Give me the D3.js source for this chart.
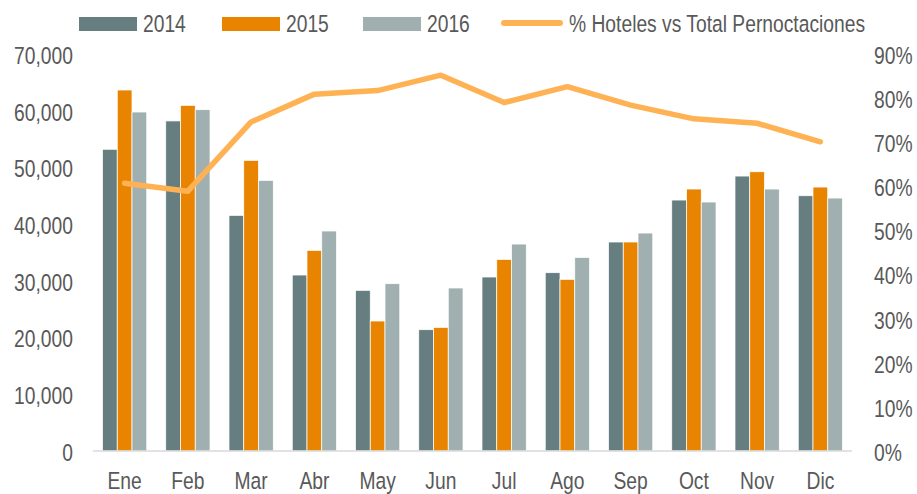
<!DOCTYPE html>
<html lang="es">
<head>
    <meta charset="UTF-8">
    <title>Pernoctaciones</title>
    <style>
        body { margin: 0; background: #fff; }
        svg text {
            font-family: "Liberation Sans", Arial, sans-serif;
            fill: #595959;
        }
    </style>
</head>
<body>
    <svg width="917" height="494"></svg>

    <script src="https://d3js.org/d3.v7.min.js"></script>
    <script>

        // Data
        const months = ['Ene', 'Feb', 'Mar', 'Abr', 'May', 'Jun', 'Jul', 'Ago', 'Sep', 'Oct', 'Nov', 'Dic'];
        const years = ['2014', '2015', '2016'];

        const values2014 = [53200, 58200, 41550, 31030, 28330, 21390, 30680, 31440, 36850, 44250, 48480, 45010];
        const values2015 = [63650, 60950, 51250, 35380, 22920, 21800, 33790, 30270, 36850, 46190, 49240, 46540];
        const values2016 = [59770, 60180, 47720, 38790, 29500, 28740, 36490, 34140, 38430, 43900, 46190, 44600];

        // % Hoteles vs Total Pernoctaciones
        const pctHoteles = [60.7, 58.9, 74.6, 80.9, 81.7, 85.2, 79.0, 82.6, 78.4, 75.3, 74.3, 70.1];

        const leftTicks = [0, 10000, 20000, 30000, 40000, 50000, 60000, 70000];
        const rightTicks = [0, 10, 20, 30, 40, 50, 60, 70, 80, 90];

        const lineLabel = '% Hoteles vs Total Pernoctaciones';
        const colors = { '2014': '#667e80', '2015': '#e88400', '2016': '#a0afaf' };
        const lineColor = '#ffb254';

        const series = [values2014, values2015, values2016];

        // No narrow font installed: squeeze Liberation Sans horizontally instead
        const fontSize = '23.5px';
        const squeeze = 'scale(0.82,1)';

        const svg = d3.select('svg');

        const plot = { left: 93, right: 852, top: 54, bottom: 451 };

        const xScale = d3.scaleBand()
            .domain(months)
            .range([plot.left, plot.right])
            .paddingInner(0.3)
            .paddingOuter(0.15);

        const xInner = d3.scaleBand()
            .domain(years)
            .range([0, xScale.bandwidth()]);

        const yLeft = d3.scaleLinear()
            .domain([0, 70000])
            .range([plot.bottom, plot.top]);

        const yRight = d3.scaleLinear()
            .domain([0, 90])
            .range([plot.bottom, plot.top]);

        // Bars
        const groups = svg.append('g')
            .selectAll('g')
            .data(months)
            .join('g')
            .attr('transform', function (d) {
                return 'translate(' + xScale(d) + ',0)';
            });

        groups.selectAll('rect')
            .data(function (d, i) {
                return years.map(function (y, j) {
                    return { year: y, value: series[j][i] };
                });
            })
            .join('rect')
            .attr('x', function (d) { return xInner(d.year); })
            .attr('y', function (d) { return yLeft(d.value); })
            .attr('width', xInner.bandwidth())
            .attr('height', function (d) { return plot.bottom - yLeft(d.value); })
            .attr('fill', function (d) { return colors[d.year]; })
            .attr('stroke', '#fff')
            .attr('stroke-width', 0.75);

        // Baseline
        svg.append('line')
            .attr('x1', plot.left)
            .attr('x2', plot.right)
            .attr('y1', plot.bottom)
            .attr('y2', plot.bottom)
            .attr('stroke', '#d9d9d9')
            .attr('stroke-width', 1.5);

        // Line series
        const line = d3.line()
            .x(function (d, i) { return xScale(months[i]) + xScale.bandwidth() / 2; })
            .y(function (d) { return yRight(d); });

        svg.append('path')
            .datum(pctHoteles)
            .attr('d', line)
            .attr('fill', 'none')
            .attr('stroke', lineColor)
            .attr('stroke-width', 5.5)
            .attr('stroke-linejoin', 'round')
            .attr('stroke-linecap', 'round');

        // Axes (labels only, no domain or tick lines)
        const fmt = d3.format(',');

        const leftAxis = svg.append('g')
            .attr('transform', 'translate(' + (plot.left - 20) + ',0)')
            .call(d3.axisLeft(yLeft).tickValues(leftTicks).tickFormat(fmt).tickSize(0).tickPadding(0));

        const rightAxis = svg.append('g')
            .attr('transform', 'translate(' + (plot.right + 22) + ',0)')
            .call(d3.axisRight(yRight).tickValues(rightTicks).tickFormat(function (d) { return d + '%'; }).tickSize(0).tickPadding(0));

        const bottomAxis = svg.append('g')
            .attr('transform', 'translate(0,489)')
            .call(d3.axisBottom(xScale).tickSize(0).tickPadding(0));

        [leftAxis, rightAxis, bottomAxis].forEach(function (a) {
            a.select('.domain').remove();
            a.selectAll('text')
                .attr('x', 0)
                .attr('transform', squeeze)
                .style('font-size', fontSize)
                .style('font-family', '"Liberation Sans", Arial, sans-serif')
                .attr('fill', '#595959');
        });
        leftAxis.selectAll('text').attr('dy', '0.4em');
        rightAxis.selectAll('text').attr('dy', '0.4em');
        bottomAxis.selectAll('text').attr('y', 0).attr('dy', 0);

        // Legend
        const legend = svg.append('g');
        const legendX = [79, 222, 363];

        years.forEach(function (y, i) {
            legend.append('rect')
                .attr('x', legendX[i])
                .attr('y', 17)
                .attr('width', 58)
                .attr('height', 14)
                .attr('fill', colors[y]);
            legend.append('g')
                .attr('transform', 'translate(' + (legendX[i] + 64) + ',24)')
                .append('text')
                .attr('transform', squeeze)
                .attr('dy', '0.36em')
                .style('font-size', fontSize)
                .text(y);
        });

        legend.append('line')
            .attr('x1', 504)
            .attr('x2', 560)
            .attr('y1', 23)
            .attr('y2', 23)
            .attr('stroke', lineColor)
            .attr('stroke-width', 6)
            .attr('stroke-linecap', 'round');

        legend.append('g')
            .attr('transform', 'translate(569,24)')
            .append('text')
            .attr('transform', squeeze)
            .attr('dy', '0.36em')
            .style('font-size', fontSize)
            .text(lineLabel);

    </script>
</body>
</html>
